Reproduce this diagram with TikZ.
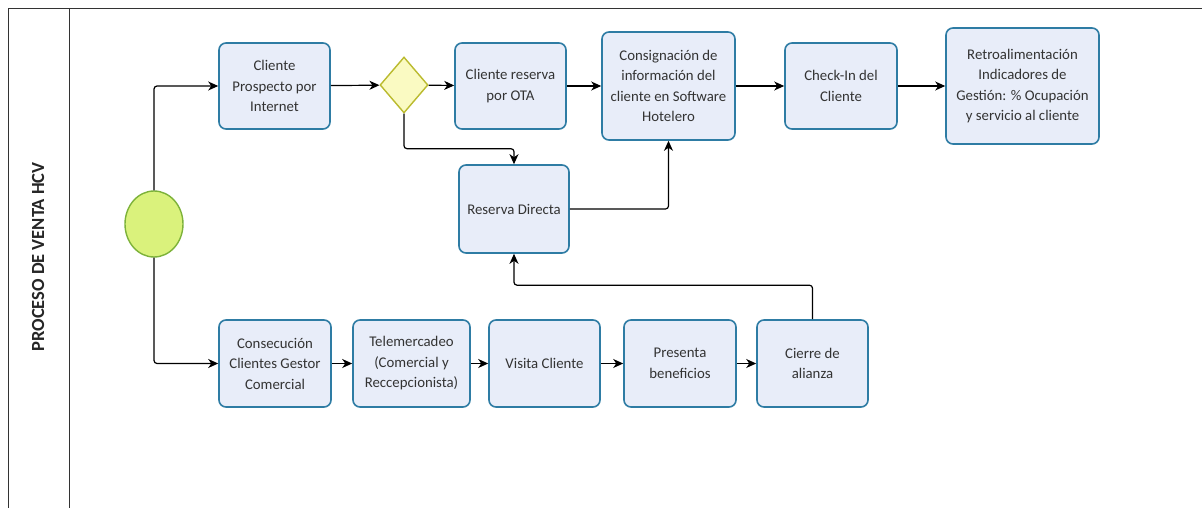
\documentclass[tikz,border=0pt]{standalone}
\usepackage{fontspec}
\setmainfont{Carlito}
\usepackage{tikz}
\usetikzlibrary{shapes.geometric,arrows.meta}

\definecolor{cajaborde}{HTML}{2E7CA4}
\definecolor{cajafondo}{HTML}{E8EDF9}
\definecolor{texto}{HTML}{333333}
\definecolor{inicioborde}{HTML}{7DB23A}
\definecolor{iniciofondo}{HTML}{DAF27C}
\definecolor{rombofondo}{HTML}{FAFAC2}
\definecolor{romboborde}{HTML}{BABA2E}

\begin{document}
\begin{tikzpicture}[x=1pt, y=-1pt,
    tarea/.style={draw=cajaborde, fill=cajafondo, line width=1.6pt, rounded corners=7pt,
        align=center, text=texto, inner sep=2pt, font=\fontsize{14.8}{20.5}\selectfont},
    flecha/.style={-{Stealth[length=10pt, width=9pt, inset=3pt]}, line width=1.2pt, rounded corners=3pt}]

    \useasboundingbox (0,0) rectangle (1202,508);

    % carril
    \draw [line width=0.8pt, black!80] (8,508) -- (8,8) -- (1202,8);
    \draw [line width=0.8pt, black!80] (69,8) -- (69,508);
    \node [rotate=90, font=\bfseries\fontsize{18.5}{22}\selectfont, text=black!85] (titulo) at (38,257) {PROCESO DE VENTA HCV};

    % eventos y compuerta
    \node [ellipse, draw=inicioborde, fill=iniciofondo, line width=1.4pt, minimum width=58pt, minimum height=66pt] (inicio) at (154,224) {};
    \node [diamond, draw=romboborde, fill=rombofondo, line width=1.4pt, inner sep=0pt, minimum width=48pt, minimum height=56pt] (decision) at (404,85) {};

    % fila superior
    \node [tarea, minimum width=111pt, minimum height=86pt] (prospecto) at (274.5,86) {Cliente\\Prospecto por\\Internet};
    \node [tarea, minimum width=111pt, minimum height=86pt] (ota) at (510.5,86) {Cliente reserva\\por OTA};
    \node [tarea, minimum width=133pt, minimum height=108pt] (consigna) at (668.5,86) {Consignación de\\información del\\cliente en Software\\Hotelero};
    \node [tarea, minimum width=112pt, minimum height=86pt] (checkin) at (841,86) {Check-In del\\Cliente};
    \node [tarea, minimum width=153pt, minimum height=116pt] (retro) at (1022.5,86) {Retroalimentación\\Indicadores de\\Gestión: \% Ocupación\\y servicio al cliente};
    \node [tarea, minimum width=110pt, minimum height=88pt] (directa) at (514,209) {Reserva Directa};

    % fila inferior
    \node [tarea, minimum width=112pt, minimum height=87pt] (consecucion) at (275,363.5) {Consecución\\Clientes Gestor\\Comercial};
    \node [tarea, minimum width=117pt, minimum height=87pt] (telemercadeo) at (411.5,363.5) {Telemercadeo\\(Comercial y\\Reccepcionista)};
    \node [tarea, minimum width=111pt, minimum height=87pt] (visita) at (544.5,363.5) {Visita Cliente};
    \node [tarea, minimum width=112pt, minimum height=87pt] (presenta) at (680,363.5) {Presenta\\beneficios};
    \node [tarea, minimum width=111pt, minimum height=87pt] (cierre) at (812.5,363.5) {Cierre de\\alianza};

    % conectores
    \draw [flecha] (inicio.north) |- (prospecto.west);
    \draw [flecha] (inicio.south) |- (consecucion.west);
    \draw [flecha] (prospecto) -- (decision);
    \draw [flecha] (decision) -- (ota);
    \draw [flecha] (ota) -- (consigna);
    \draw [flecha] (consigna) -- (checkin);
    \draw [flecha] (checkin) -- (retro);
    \draw [flecha] (decision.south) -- ++(0,35) -| (directa.north);
    \draw [flecha] (directa.east) -| (consigna.south);
    \draw [flecha] (consecucion) -- (telemercadeo);
    \draw [flecha] (telemercadeo) -- (visita);
    \draw [flecha] (visita) -- (presenta);
    \draw [flecha] (presenta) -- (cierre);
    \draw [flecha] (cierre.north) -- ++(0,-34) -| (directa.south);

\end{tikzpicture}
\end{document}
